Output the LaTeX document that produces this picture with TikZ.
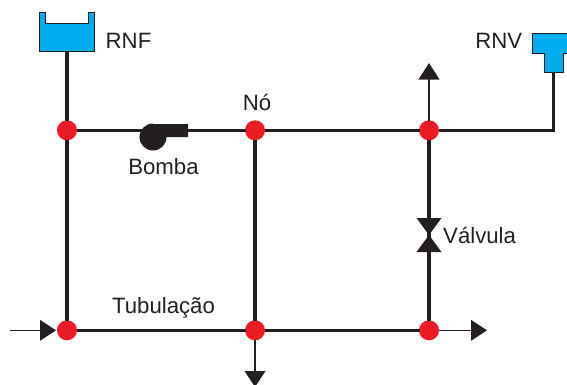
\documentclass[tikz,border=0pt]{standalone}
\usepackage{fontspec}
\setmainfont{Liberation Sans}
\definecolor{ink}{HTML}{231F20}
\definecolor{tankblue}{HTML}{00AEEF}
\definecolor{jred}{HTML}{ED1C24}
\tikzset{
  junction/.style={circle,fill=jred,draw=none,inner sep=0pt,outer sep=-0.5pt,minimum size=20pt},
  pipe/.style={draw=ink,line width=3.2pt},
  thinpipe/.style={draw=ink,line width=1.4pt},
  tank/.style={fill=tankblue,draw=ink,line width=0.9pt,line join=miter},
  solid black/.style={fill=ink,draw=none},
  lbl/.style={font=\fontsize{22.2}{25}\selectfont,text=ink,inner sep=0pt},
}
\begin{document}
\begin{tikzpicture}[x=1pt,y=-1pt]
\useasboundingbox (0,0) rectangle (567,384);
\clip (0,0) rectangle (567,384);
% free ends
\coordinate (tankF) at (67,51);
\coordinate (tankV) at (553.5,72);
\coordinate (corner) at (553.5,130.3);
\coordinate (upBase) at (429,78);
\coordinate (inStart) at (10,330.3);
\coordinate (inBase) at (41,330.3);
\coordinate (outBase) at (472,330.3);
\coordinate (downBase) at (255,372);
% junctions
\node[junction] (a1) at (67,130.3) {};
\node[junction] (a2) at (255,130.3) {};
\node[junction] (a3) at (429,130.3) {};
\node[junction] (b1) at (67,330.3) {};
\node[junction] (b2) at (255,330.3) {};
\node[junction] (b3) at (429,330.3) {};
% pipes
\draw[pipe] (tankF) -- (a1);
\draw[pipe] (a1) -- (b1);
\draw[pipe] (a1) -- (a2);
\draw[pipe] (a2) -- (a3);
\draw[pipe] (a2) -- (b2);
\draw[pipe] (b1) -- (b2);
\draw[pipe] (b2) -- (b3);
\draw[pipe] (a3) -- (b3);
\draw[pipe,line join=miter] (a3) -- (corner) -- (tankV);
% thin flow lines
\draw[thinpipe] (a3) -- (upBase);
\draw[thinpipe] (inStart) -- (inBase);
\draw[thinpipe] (b3) -- (outBase);
\draw[thinpipe] (b2) -- (downBase);
% arrowheads
\fill[solid black] (429,63) -- (439.5,79.5) -- (418.5,79.5) -- cycle;
\fill[solid black] (56,330.3) -- (40,319.8) -- (40,340.8) -- cycle;
\fill[solid black] (487,330.3) -- (471,319.8) -- (471,340.8) -- cycle;
\fill[solid black] (255,387) -- (244.5,371) -- (265.5,371) -- cycle;
% valve
\fill[solid black] (416.5,218) -- (441.5,218) -- (416.5,252) -- (441.5,252) -- cycle;
% pump
\fill[solid black] (153,124) -- (188,124) -- (188,137) -- (166.5,137)
  arc[start angle=0,end angle=270,radius=13.5] -- cycle;
% reservoirs
\draw[tank] (39.5,12.5) -- (45.5,12.5) -- (45.5,23.5) -- (88.5,23.5) -- (88.5,12.5)
  -- (94.5,12.5) -- (94.5,51) -- (39.5,51) -- cycle;
\draw[tank] (532,33) -- (570,33) -- (570,53) -- (563,53) -- (563,72) -- (544.5,72)
  -- (544.5,53) -- (532,53) -- cycle;
% labels
\node[lbl,anchor=west] (tRNF) at (105.5,41) {RNF};
\node[lbl,anchor=east] (tRNV) at (522.5,41) {RNV};
\node[lbl] (tNo) at (257,102) {Nó};
\node[lbl] (tBomba) at (163.5,167) {Bomba};
\node[lbl,anchor=west] (tValv) at (443,235.5) {Válvula};
\node[lbl] (tTub) at (163.5,308) {Tubulação};
\end{tikzpicture}
\end{document}
